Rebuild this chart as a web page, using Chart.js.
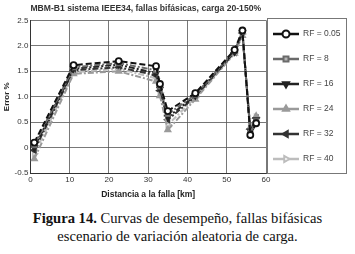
<!DOCTYPE html>
<html>
<head>
<meta charset="utf-8">
<script src="https://cdn.jsdelivr.net/npm/chart.js@4"></script>
<style>
  body { margin: 0; background: #fff; width: 355px; height: 254px; overflow: hidden; }
  #wrap { position: relative; width: 355px; height: 200px; }
  .cap { position: absolute; left: 0; width: 355px; text-align: center; font-family: "Liberation Serif", serif; font-size: 14.6px; line-height: 18px; color: #111; white-space: nowrap; }
</style>
</head>
<body>
<div id="wrap"><canvas id="grafica" width="355" height="200"></canvas></div>
<div class="cap" style="top:209px"><b>Figura 14.</b> Curvas de desempeño, fallas bifásicas</div>
<div class="cap" style="top:227px">escenario de variación aleatoria de carga.</div>
<script>
var distancia = [1, 11, 22.5, 32, 33, 35, 42, 52, 54, 56, 57.5];
var rf005 = [0.10, 1.62, 1.70, 1.60, 1.25, 0.72, 1.07, 1.92, 2.30, 0.25, 0.48];
var rf8   = [0.05, 1.58, 1.66, 1.52, 1.20, 0.66, 1.04, 1.90, 2.28, 0.30, 0.52];
var rf16  = [0.00, 1.55, 1.63, 1.46, 1.15, 0.60, 1.02, 1.88, 2.26, 0.33, 0.55];
var rf24  = [-0.22, 1.45, 1.50, 1.30, 1.02, 0.35, 0.95, 1.85, 2.20, 0.40, 0.62];
var rf32  = [-0.05, 1.52, 1.58, 1.42, 1.12, 0.55, 1.00, 1.87, 2.25, 0.36, 0.58];
var rf40  = [-0.12, 1.48, 1.55, 1.36, 1.08, 0.45, 0.98, 1.86, 2.23, 0.38, 0.60];
var etiquetas = ["RF = 0.05", "RF = 8", "RF = 16", "RF = 24", "RF = 32", "RF = 40"];
var colores = ["#111111", "#6a6a6a", "#222222", "#9a9a9a", "#333333", "#bdbdbd"];
var marcas = ["circle", "rect", "triangle", "triangle", "triangle", "triangle"];
var giros = [0, 0, 180, 0, 270, 90];
var rellenos = ["#ffffff", "#b5b5b5", "#222222", "#9a9a9a", "#333333", "#ffffff"];
var series = [rf005, rf8, rf16, rf24, rf32, rf40];

var fuente = '"Liberation Sans", Arial, sans-serif';

var datasets = [];
for (var i = 0; i < series.length; i++) {
  var puntos = [];
  for (var j = 0; j < distancia.length; j++) {
    puntos.push({x: distancia[j], y: series[i][j]});
  }
  datasets.push({
    label: etiquetas[i],
    data: puntos,
    borderColor: colores[i],
    backgroundColor: rellenos[i],
    borderWidth: 2,
    borderDash: i == 0 ? [6, 3] : [6, 2, 2, 2],
    pointStyle: marcas[i],
    rotation: giros[i],
    pointRadius: 3,
    pointBorderColor: colores[i],
    pointBorderWidth: 1.8,
    pointBackgroundColor: rellenos[i],
    tension: 0
  });
}

// leyenda dibujada a mano, con linea y marcador como en la figura
var leyendaCaja = {
  id: 'leyendaCaja',
  afterDraw: function(chart) {
    var ctx = chart.ctx;
    var x0 = 267, y0 = 18, w = 79, h = 155;
    ctx.save();
    ctx.fillStyle = '#fff';
    ctx.fillRect(x0, y0, w, h);
    ctx.strokeStyle = '#777';
    ctx.lineWidth = 1;
    ctx.strokeRect(x0 + 0.5, y0 + 0.5, w, h);
    for (var k = 0; k < etiquetas.length; k++) {
      var yy = y0 + 16 + k * 25;
      ctx.setLineDash([]);
      ctx.strokeStyle = colores[k];
      ctx.lineWidth = 2.5;
      ctx.beginPath();
      ctx.moveTo(x0 + 6, yy);
      ctx.lineTo(x0 + 32, yy);
      ctx.stroke();
      ctx.fillStyle = rellenos[k];
      ctx.lineWidth = 2;
      Chart.helpers.drawPoint(ctx, {pointStyle: marcas[k], rotation: giros[k], radius: 3.5, borderWidth: 2}, x0 + 19, yy);
      ctx.fillStyle = '#444';
      ctx.font = '8.5px ' + fuente;
      ctx.textBaseline = 'middle';
      ctx.fillText(etiquetas[k], x0 + 36, yy);
    }
    ctx.restore();
  }
};

var ctx = document.getElementById('grafica');
var grafica = new Chart(ctx, {
  type: 'line',
  data: { datasets: datasets },
  plugins: [leyendaCaja],
  options: {
    responsive: false,
    animation: false,
    layout: { padding: { left: 0, right: 89, top: 0, bottom: 0 } },
    plugins: {
      legend: { display: false },
      tooltip: { enabled: false },
      title: {
        display: true,
        fullSize: false,
        text: 'MBM-B1 sistema IEEE34, fallas bifásicas, carga 20-150%',
        color: '#333',
        align: 'start',
        font: { family: fuente, size: 8.6, weight: 'bold' },
        padding: { top: 3, bottom: 7 }
      }
    },
    scales: {
      x: {
        type: 'linear',
        min: 0, max: 60,
        ticks: { stepSize: 10, color: '#333', font: { size: 8, family: fuente }, padding: 2, maxRotation: 0 },
        grid: { color: '#555', borderDash: [1, 3], drawTicks: false, lineWidth: 0.8 },
        border: { color: '#333' },
        title: { display: true, text: 'Distancia a la falla [km]', color: '#222', font: { size: 8.5, weight: 'bold', family: fuente }, padding: { top: 3, bottom: 0 } }
      },
      y: {
        min: -0.5, max: 2.5,
        ticks: { stepSize: 0.5, color: '#333', font: { size: 8, family: fuente }, padding: 2 },
        grid: { color: '#555', borderDash: [1, 3], drawTicks: false, lineWidth: 0.8 },
        border: { color: '#333' },
        title: { display: true, text: 'Error %', color: '#222', font: { size: 8, weight: 'bold', family: fuente }, padding: { top: 2, bottom: 1 } }
      }
    }
  }
});
</script>
</body>
</html>
